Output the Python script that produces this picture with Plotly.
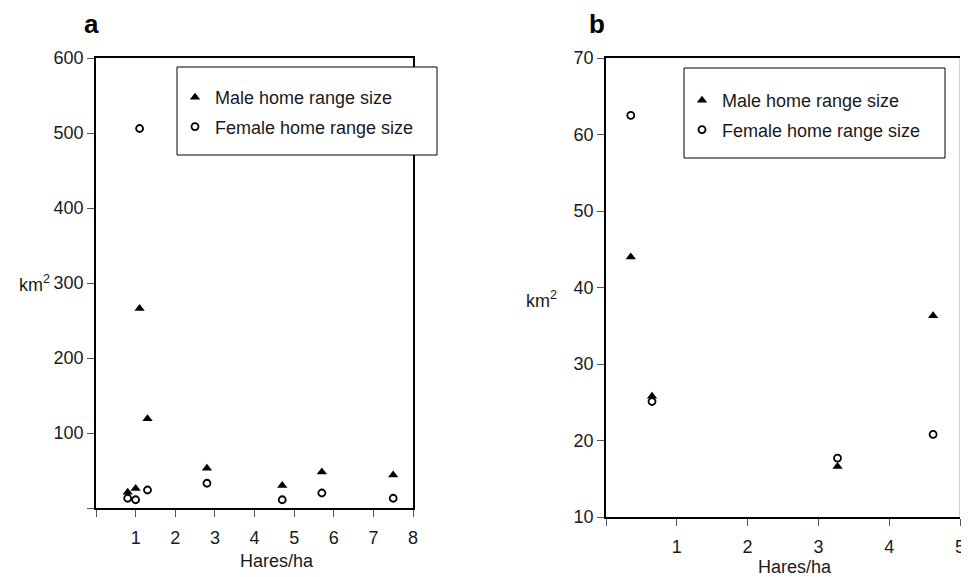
import plotly.graph_objects as go

# ---- data ----
a_x = [0.8, 1.0, 1.1, 1.3, 2.8, 4.7, 5.7, 7.5]
a_male = [21, 26, 266, 119, 53, 30, 48, 44]
a_female = [13, 11, 506, 24, 33, 11, 20, 13]

b_x = [0.35, 0.65, 3.27, 4.62]
b_male = [44.0, 25.8, 16.6, 36.3]
b_female = [62.5, 25.1, 17.7, 20.8]

a_xticks = [0, 1, 2, 3, 4, 5, 6, 7, 8]
a_xticktext = ["", "1", "2", "3", "4", "5", "6", "7", "8"]
a_yticks = [0, 100, 200, 300, 400, 500, 600]
a_yticktext = ["", "100", "200", "300", "400", "500", "600"]
b_xticks = [0, 1, 2, 3, 4, 5]
b_xticktext = ["", "1", "2", "3", "4", "5"]
b_yticks = [10, 20, 30, 40, 50, 60, 70]
b_yticktext = ["10", "20", "30", "40", "50", "60", "70"]

male_name = "Male home range size"
female_name = "Female home range size"

# page body has an 8px margin; lay out the figure so it lands on the 969x577 window
OFF = 8
W, H = 969 - OFF, 577 - OFF
FONT = "Liberation Sans, Arial, sans-serif"
TXT = "#1a1a1a"

def px(x):
    return (x - OFF) / W

def py(y):
    return (H - (y - OFF)) / H

fig = go.Figure()

tri = dict(symbol="triangle-up", size=9, color="black")
circ = dict(symbol="circle-open", size=7, color="black", line=dict(width=1.8, color="black"))

fig.add_trace(go.Scatter(x=a_x, y=a_male, mode="markers", marker=tri, name=male_name,
                         xaxis="x", yaxis="y", legend="legend", legendgroup="am"))
fig.add_trace(go.Scatter(x=a_x, y=a_female, mode="markers", marker=circ, name=female_name,
                         xaxis="x", yaxis="y", legend="legend", legendgroup="af"))
fig.add_trace(go.Scatter(x=b_x, y=b_male, mode="markers", marker=tri, name=male_name,
                         xaxis="x2", yaxis="y2", legend="legend2", legendgroup="bm"))
fig.add_trace(go.Scatter(x=b_x, y=b_female, mode="markers", marker=circ, name=female_name,
                         xaxis="x2", yaxis="y2", legend="legend2", legendgroup="bf"))

axcommon = dict(showgrid=False, zeroline=False, showline=True, linecolor="black", linewidth=1.5,
                ticks="outside", ticklen=7, tickwidth=1.3, tickcolor="#555", automargin=False,
                tickfont=dict(size=18, color=TXT, family=FONT), tickmode="array")
overlay = dict(showgrid=False, zeroline=False, showline=False, showticklabels=False, automargin=False,
               ticks="inside", ticklen=7, tickwidth=1.3, tickcolor="#555", tickmode="array")

a_xdom = [px(96), px(413)]
b_xdom = [px(606), px(960)]
a_ydom = [py(508), py(58)]
b_ydom = [py(517), py(58)]

fig.update_layout(
    width=W, height=H,
    margin=dict(l=0, r=0, t=0, b=0, autoexpand=False),
    paper_bgcolor="white", plot_bgcolor="white",
    font=dict(family=FONT, color=TXT, size=18),
    xaxis=dict(axcommon, domain=a_xdom, range=[0, 8], anchor="y", mirror=True,
               tickvals=a_xticks, ticktext=a_xticktext, ticklabelstandoff=6),
    yaxis=dict(axcommon, domain=a_ydom, range=[0, 600], anchor="x", mirror=True,
               tickvals=a_yticks, ticktext=a_yticktext),
    xaxis2=dict(axcommon, domain=b_xdom, range=[0, 5], anchor="y2", mirror=True,
                tickvals=b_xticks, ticktext=b_xticktext, ticklabelstandoff=6),
    yaxis2=dict(axcommon, domain=b_ydom, range=[10, 70], anchor="x2", mirror=False,
                tickvals=b_yticks, ticktext=b_yticktext),
    xaxis3=dict(overlay, overlaying="x", anchor="y", range=[0, 8], tickvals=a_xticks),
    yaxis3=dict(overlay, overlaying="y", anchor="x", range=[0, 600], tickvals=a_yticks),
    xaxis4=dict(overlay, overlaying="x2", anchor="y2", range=[0, 5], tickvals=b_xticks),
    yaxis4=dict(overlay, overlaying="y2", anchor="x2", range=[10, 70], tickvals=b_yticks),
    legend=dict(x=px(175), y=py(79), xanchor="left", yanchor="top",
                bgcolor="rgba(0,0,0,0)", borderwidth=0, traceorder="grouped",
                tracegroupgap=3, font=dict(size=18, color=TXT, family=FONT)),
    legend2=dict(x=px(682), y=py(82), xanchor="left", yanchor="top",
                 bgcolor="rgba(0,0,0,0)", borderwidth=0, traceorder="grouped",
                 tracegroupgap=3, font=dict(size=18, color=TXT, family=FONT)),
    showlegend=True,
)

# legend boxes and panel b right frame
fig.add_shape(type="rect", xref="paper", yref="paper", x0=px(177), x1=px(437), y0=py(155), y1=py(67),
              fillcolor="white", line=dict(color="black", width=1), layer="above")
fig.add_shape(type="rect", xref="paper", yref="paper", x0=px(684), x1=px(945), y0=py(158), y1=py(68),
              fillcolor="white", line=dict(color="black", width=1), layer="above")
fig.add_shape(type="line", xref="x2", yref="y2", x0=5, x1=5, y0=10, y1=70,
              line=dict(color="#aaaaaa", width=1), layer="above")

def note(text, x, y, size=18, color=TXT):
    return dict(text=text, x=px(x), y=py(y), xref="paper", yref="paper",
                xanchor="center", yanchor="middle", showarrow=False,
                font=dict(size=size, color=color, family=FONT))

ann = [
    note("<b>a</b>", 91, 24, size=26, color="black"),
    note("<b>b</b>", 597, 24, size=26, color="black"),
    note("km<sup>2</sup>", 34, 283),
    note("km<sup>2</sup>", 541, 299),
    note("Hares/ha", 277, 561),
    note("Hares/ha", 795, 567),
]
fig.update_layout(annotations=ann)

fig.write_html("out.html")
